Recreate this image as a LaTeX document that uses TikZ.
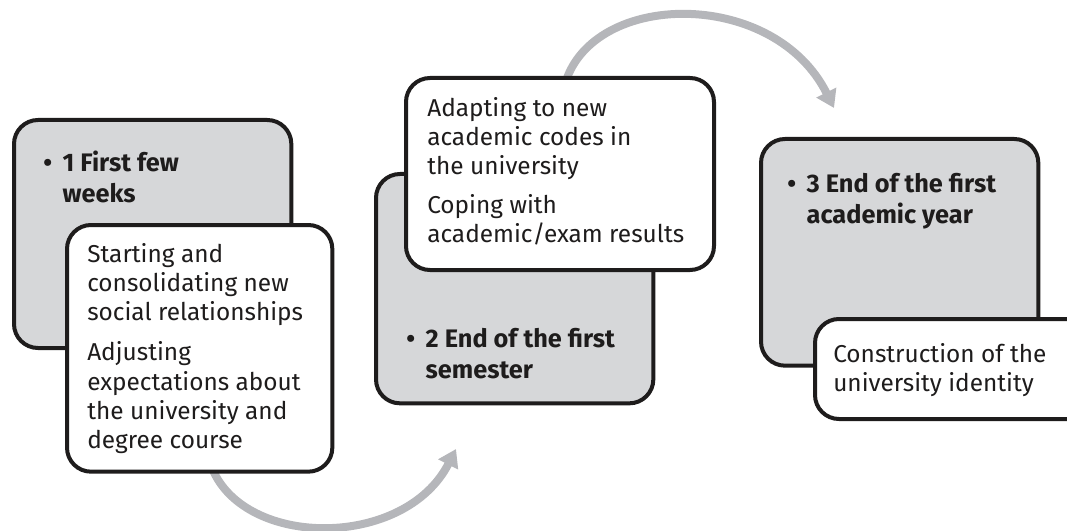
\documentclass[tikz,border=0pt]{standalone}
\usepackage{fontspec}
\setmainfont{Fira Sans}
\usetikzlibrary{arrows.meta}
\definecolor{boxgray}{RGB}{214,215,217}
\definecolor{arrowgray}{RGB}{181,182,186}
\definecolor{edgeblack}{RGB}{30,28,28}
\begin{document}
\begin{tikzpicture}[x=0.75pt,y=-0.75pt,
  basebox/.style={draw=edgeblack, line width=3pt, rounded corners=18pt, anchor=north west, inner sep=0pt},
  graybox/.style={basebox, fill=boxgray},
  whitebox/.style={basebox, fill=white},
  txt/.style={anchor=north west, inner sep=0pt, align=left, font=\fontsize{18.3}{22}\selectfont, text=edgeblack},
  btxt/.style={txt, font=\fontsize{19}{23}\selectfont\bfseries},
  flow/.style={draw=arrowgray, line width=6pt, -{Triangle[width=16pt,length=13pt]}}]
\useasboundingbox (0,0) rectangle (1067,531);
% connectors (behind the boxes)
\coordinate (a1s) at (212,468);
\coordinate (a1e) at (456,449);
\coordinate (a2s) at (567,78);
\coordinate (a2e) at (834,108);
\draw[flow] (a1s) .. controls (245,549) and (405,549) .. (a1e);
\draw[flow] (a2s) .. controls (600,-10) and (775,-10) .. (a2e);
% stage 1
\node[graybox, minimum width=208pt, minimum height=171pt] (g1) at (12,118) {};
\node[btxt] (t1) at (43,150) {\begin{tabular}{@{}l@{\hspace{8pt}}l@{}}\textbullet & 1 First few\\ & weeks\end{tabular}};
\node[whitebox, minimum width=199pt, minimum height=185pt] (w1) at (65,223) {};
\node[txt] (u1) at (87,243) {Starting and\\consolidating new\\social relationships\\[8pt]Adjusting\\expectations about\\the university and\\degree course};
% stage 2
\node[graybox, minimum width=208pt, minimum height=172pt] (g2) at (374,172) {};
\node[btxt] (t2) at (406,326) {\begin{tabular}{@{}l@{\hspace{8pt}}l@{}}\textbullet & 2 End of the first\\ & semester\end{tabular}};
\node[whitebox, minimum width=231pt, minimum height=144pt] (w2) at (404,76) {};
\node[txt] (u2) at (427,97) {Adapting to new\\academic codes in\\the university\\[7pt]Coping with\\academic/exam results};
% stage 3
\node[graybox, minimum width=208pt, minimum height=170pt] (g3) at (759,137) {};
\node[btxt] (t3) at (787,171) {\begin{tabular}{@{}l@{\hspace{8pt}}l@{}}\textbullet & 3 End of the first\\ & academic year\end{tabular}};
\node[whitebox, minimum width=210pt, minimum height=75pt] (w3) at (813,317) {};
\node[txt] (u3) at (833,343) {Construction of the\\university identity};
\end{tikzpicture}
\end{document}
